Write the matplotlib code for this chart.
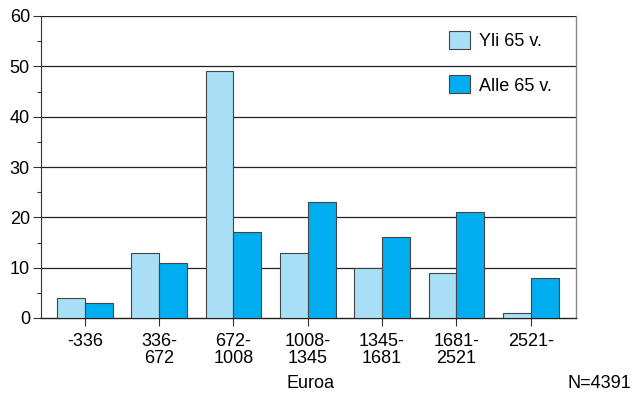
import matplotlib
matplotlib.use("Agg")
import matplotlib.pyplot as plt
import numpy as np
from matplotlib.ticker import MultipleLocator

categories = ["-336", "336-\n672", "672-\n1008", "1008-\n1345", "1345-\n1681", "1681-\n2521", "2521-"]
yli65 = [4, 13, 49, 13, 10, 9, 1]
alle65 = [3, 11, 17, 23, 16, 21, 8]
series_names = ["Yli 65 v.", "Alle 65 v."]
xlabel = "Euroa"
note = "N=4391"

plt.rcParams['font.family'] = ['Liberation Sans', 'DejaVu Sans']
FS = 13

fig = plt.figure(figsize=(6.32, 3.94), dpi=100)
ax = fig.add_axes([41/632, 1-318/394, 535/632, 302/394])

x = np.arange(len(categories))
w = 0.375
light = "#A9DEF7"
dark = "#00AEEF"
ax.bar(x - w/2, yli65, w, color=light, edgecolor="#444444", linewidth=0.8, label=series_names[0], zorder=3)
ax.bar(x + w/2, alle65, w, color=dark, edgecolor="#444444", linewidth=0.8, label=series_names[1], zorder=3)

ax.set_xlim(-0.59, 6.61)
ax.set_ylim(0, 60)
ax.yaxis.set_major_locator(MultipleLocator(10))
ax.yaxis.set_minor_locator(MultipleLocator(5))
ax.set_xticks(x)
ax.set_xticklabels(categories, fontsize=FS, linespacing=1.0)
ax.tick_params(axis='y', labelsize=FS, length=6, width=0.8, color="#333333", pad=2)
ax.tick_params(axis='y', which='minor', length=3, width=0.8, color="#333333")
ax.tick_params(axis='x', length=6, width=0.8, color="#333333", pad=5)

for v in range(10, 61, 10):
    ax.axhline(v, color="#222222", linewidth=0.9, zorder=1)

ax.spines["top"].set_visible(False)
ax.spines["right"].set_color("#888888")
ax.spines["right"].set_linewidth(1.0)
ax.spines["left"].set_color("#333333")
ax.spines["left"].set_linewidth(0.8)
ax.spines["bottom"].set_color("#222222")
ax.spines["bottom"].set_linewidth(1.0)

leg = ax.legend(loc="upper left", bbox_to_anchor=((449-41)/535, 1 - (31-16)/302),
                frameon=False, fontsize=FS, handlelength=1.16, handleheight=1.16,
                labelspacing=1.4, handletextpad=0.5, borderpad=0, borderaxespad=0)

fig.text(310/632, 1-384/394, xlabel, ha="center", va="center", fontsize=FS)
fig.text(599/632, 1-384/394, note, ha="center", va="center", fontsize=FS)

fig.savefig("out.png", dpi=100)
